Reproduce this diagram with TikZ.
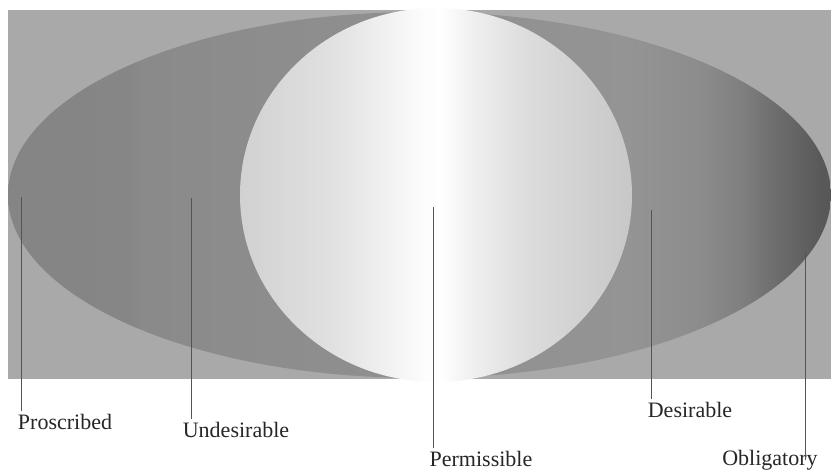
\documentclass[tikz,border=0pt]{standalone}
\usepackage{fontspec}
\setmainfont{Liberation Serif}
\definecolor{bggray}{gray}{0.663}
\definecolor{leadgray}{gray}{0.33}
\pgfdeclarehorizontalshading{ellshade}{100bp}{%
rgb(0bp)=(0.52,0.52,0.52);
rgb(25bp)=(0.52,0.52,0.52);
rgb(32.4bp)=(0.525,0.525,0.525);
rgb(33bp)=(0.54,0.54,0.54);
rgb(39.1bp)=(0.55,0.55,0.55);
rgb(62.8bp)=(0.58,0.58,0.58);
rgb(67bp)=(0.55,0.55,0.55);
rgb(69.5bp)=(0.50,0.50,0.50);
rgb(71.9bp)=(0.42,0.42,0.42);
rgb(74.3bp)=(0.35,0.35,0.35);
rgb(75bp)=(0.34,0.34,0.34);
rgb(100bp)=(0.34,0.34,0.34)}
\pgfdeclarehorizontalshading{circshade}{100bp}{%
rgb(0bp)=(0.82,0.82,0.82);
rgb(25bp)=(0.82,0.82,0.82);
rgb(36.5bp)=(0.88,0.88,0.88);
rgb(45.4bp)=(0.96,0.96,0.96);
rgb(48.5bp)=(0.99,0.99,0.99);
rgb(50.5bp)=(1,1,1);
rgb(54.5bp)=(0.94,0.94,0.94);
rgb(62bp)=(0.86,0.86,0.86);
rgb(75bp)=(0.78,0.78,0.78);
rgb(100bp)=(0.78,0.78,0.78)}
\tikzset{
  lbl/.style={font=\fontsize{22}{26}\selectfont, inner sep=3pt, anchor=base, text=black!85},
  leader/.style={draw=leadgray, line width=0.7pt}
}
\begin{document}
\begin{tikzpicture}[x=1pt,y=-1pt]
\useasboundingbox (0,0) rectangle (831,471);
\fill[white] (0,0) rectangle (831,471);
% background panel
\fill[bggray] (8,10) rectangle (831,379);
% outer ellipse
\shade[shading=ellshade] (419.5,195) ellipse [x radius=411.5, y radius=183];
% central circle
\shade[shading=circshade] (436,195) ellipse [x radius=196, y radius=187];
% labels
\node[lbl] (lP) at (65,429) {Proscribed};
\node[lbl] (lU) at (236,437) {Undesirable};
\node[lbl] (lM) at (481,466) {Permissible};
\node[lbl] (lD) at (690,417) {Desirable};
\node[lbl] (lO) at (770,465) {Obligatory};
% leader lines
\coordinate (tP) at (21,197);
\coordinate (tU) at (191,198);
\coordinate (tM) at (433,207);
\coordinate (tD) at (651,210);
\coordinate (tO) at (805,252);
\coordinate (bO) at (805,460);
\draw[leader] (tP) -- (tP |- lP.north);
\draw[leader] (tU) -- (tU |- lU.north);
\draw[leader] (tM) -- (tM |- lM.north);
\draw[leader] (tD) -- (tD |- lD.north);
\draw[leader] (tO) -- (bO);
\end{tikzpicture}
\end{document}
